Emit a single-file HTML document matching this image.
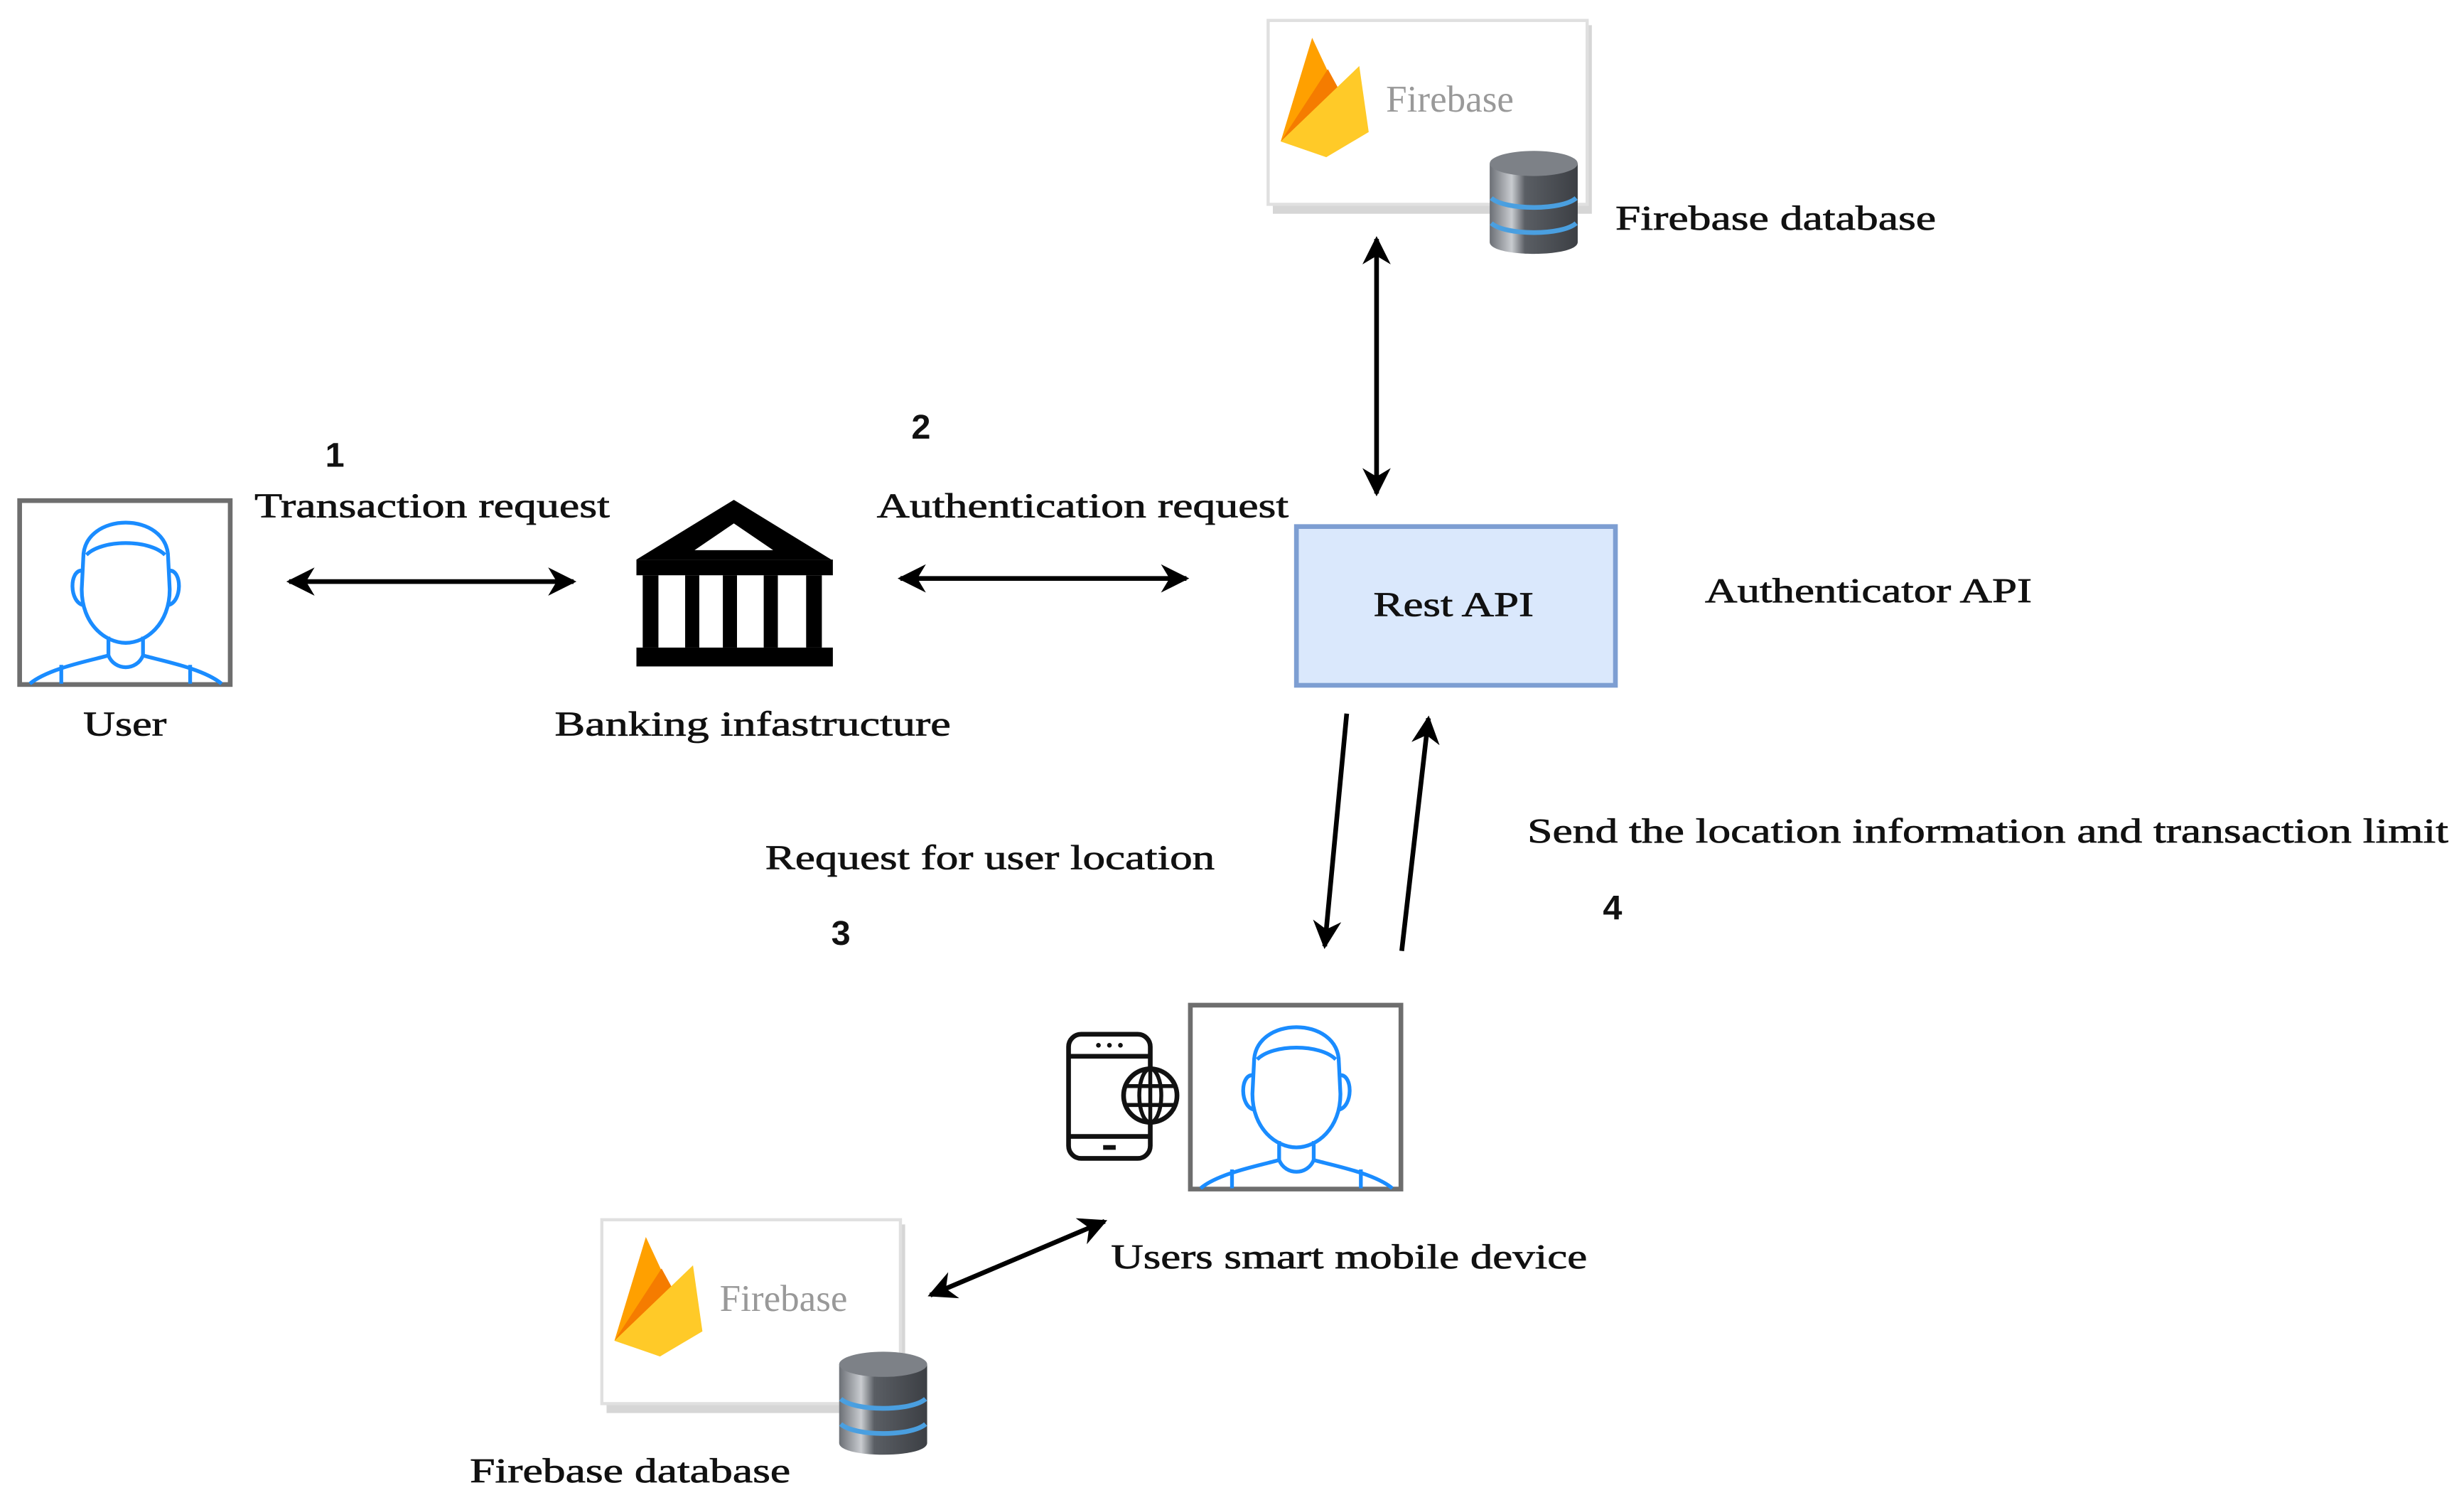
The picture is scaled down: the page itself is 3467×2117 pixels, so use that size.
<!DOCTYPE html>
<html><head><meta charset="utf-8"><style>
html,body{margin:0;padding:0;background:#fff;}
svg{display:block;}
text{font-family:"Liberation Serif",serif;fill:#111;}
.n{font-family:"Liberation Sans",sans-serif;font-weight:bold;font-size:22px;}
.t{font-size:22px;stroke:#111;stroke-width:0.35px;}
</style></head><body>
<svg width="3467" height="2117" viewBox="0 0 1568 957.5" preserveAspectRatio="none" xmlns="http://www.w3.org/2000/svg">
<defs>
<marker id="ah" viewBox="0 0 10 10" refX="9" refY="5" markerWidth="6" markerHeight="6" orient="auto-start-reverse" markerUnits="strokeWidth">
<path d="M0,0 L10,5 L0,10 L3,5 Z" fill="#000"/></marker>
<linearGradient id="cyl" x1="0" x2="1" y1="0" y2="0">
<stop offset="0" stop-color="#6b6f75"/><stop offset="0.25" stop-color="#c9ccd0"/><stop offset="0.4" stop-color="#5a5e64"/><stop offset="1" stop-color="#3c3f44"/></linearGradient>
<g id="person">
<rect x="1.5" y="1.5" width="134" height="117" fill="#fff" stroke="#6e6e6e" stroke-width="3"/>
<g fill="none" stroke="#1a8cff" stroke-width="2.4">
<path d="M42,38 C42,8 96,8 96,38 L97,58 C97,80 82,92 69,92 C56,92 41,80 41,58 Z"/>
<path d="M44,36 C54,26 84,26 94,36"/>
<path d="M41,46 C33,46 33,66 42,68 M97,46 C105,46 105,66 96,68"/>
<path d="M58,88 L58,100 C48,103 20,108 8,118 M80,88 L80,100 C90,103 118,108 130,118"/>
<path d="M58,100 C62,110 76,110 80,100"/>
<path d="M28,106 L28,118 M110,106 L110,118"/>
</g></g>
<g id="flame">
<polygon points="0,66 20,0 34,30" fill="#ffa000"/>
<polygon points="0,66 30,20 42,42" fill="#f57c00"/>
<polygon points="0,66 50,18 56,60 29,76" fill="#ffca28"/>
</g>
<g id="db">
<path d="M0,8 L0,58 C0,68 56,68 56,58 L56,8 Z" fill="url(#cyl)"/>
<ellipse cx="28" cy="8" rx="28" ry="8" fill="#7d8187"/>
<path d="M1,30 C10,38 46,38 55,30" fill="none" stroke="#4a9fe0" stroke-width="3"/>
<path d="M1,46 C10,54 46,54 55,46" fill="none" stroke="#4a9fe0" stroke-width="3"/>
</g>
</defs>

<!-- top firebase -->
<rect x="810" y="16" width="203" height="120" fill="#d6d6d6"/>
<rect x="807" y="13" width="203" height="117" fill="#fff" stroke="#e0e0e0" stroke-width="2"/>
<use href="#flame" x="815" y="24"/>
<text x="882" y="71" font-size="24" style="fill:#999">Firebase</text>
<use href="#db" x="948" y="96"/>
<text class="t" x="1028" y="146" textLength="204" lengthAdjust="spacingAndGlyphs">Firebase database</text>

<!-- user -->
<use href="#person" x="11" y="317"/>
<text class="t" x="53" y="468" textLength="53" lengthAdjust="spacingAndGlyphs">User</text>

<text class="n" x="207" y="297">1</text>
<text class="t" x="162" y="329" textLength="226" lengthAdjust="spacingAndGlyphs">Transaction request</text>
<line x1="184" y1="370" x2="365" y2="370" stroke="#000" stroke-width="3" marker-start="url(#ah)" marker-end="url(#ah)"/>

<!-- bank -->
<g fill="#000">
<polygon points="467,318 529,356 405,356"/>
<polygon points="467,333 442,350 492,350" fill="#fff"/>
<rect x="405" y="356" width="125" height="10"/>
<rect x="409" y="366" width="10" height="46"/>
<rect x="436" y="366" width="9" height="46"/>
<rect x="460" y="366" width="9" height="46"/>
<rect x="486" y="366" width="9" height="46"/>
<rect x="513" y="366" width="10" height="46"/>
<rect x="405" y="412" width="125" height="12"/>
</g>
<text class="t" x="353" y="468" textLength="252" lengthAdjust="spacingAndGlyphs">Banking infastructure</text>

<text class="n" x="580" y="279">2</text>
<text class="t" x="558" y="329" textLength="262" lengthAdjust="spacingAndGlyphs">Authentication request</text>
<line x1="573" y1="368" x2="755" y2="368" stroke="#000" stroke-width="3" marker-start="url(#ah)" marker-end="url(#ah)"/>

<!-- Rest API -->
<rect x="825" y="335" width="203" height="101" fill="#dae8fc" stroke="#7d9ed2" stroke-width="3"/>
<text class="t" x="874" y="392" textLength="102" lengthAdjust="spacingAndGlyphs">Rest API</text>
<text class="t" x="1085" y="383" textLength="208" lengthAdjust="spacingAndGlyphs">Authenticator API</text>

<line x1="876" y1="152" x2="876" y2="314" stroke="#000" stroke-width="3" marker-start="url(#ah)" marker-end="url(#ah)"/>

<line x1="857" y1="454" x2="843" y2="602" stroke="#000" stroke-width="3" marker-end="url(#ah)"/>
<line x1="892" y1="605" x2="909" y2="457" stroke="#000" stroke-width="3" marker-end="url(#ah)"/>

<text class="t" x="487" y="553" textLength="286" lengthAdjust="spacingAndGlyphs">Request for user location</text>
<text class="n" x="529" y="601">3</text>
<text class="t" x="972" y="536" textLength="586" lengthAdjust="spacingAndGlyphs">Send the location information and transaction limit</text>
<text class="n" x="1020" y="585">4</text>

<!-- mobile user -->
<use href="#person" x="756" y="638"/>
<g fill="none" stroke="#111" stroke-width="3">
<rect x="680" y="658" width="52" height="79" rx="8"/>
<line x1="680" y1="672" x2="732" y2="672"/>
<line x1="680" y1="723" x2="732" y2="723"/>
<line x1="702" y1="730" x2="710" y2="730"/>
</g>
<g fill="#111"><circle cx="699" cy="665" r="1.5"/><circle cx="706" cy="665" r="1.5"/><circle cx="713" cy="665" r="1.5"/></g>
<g fill="#fff" stroke="#111" stroke-width="3">
<circle cx="732" cy="697" r="17"/></g>
<g fill="none" stroke="#111" stroke-width="2.5">
<ellipse cx="732" cy="697" rx="7" ry="17"/>
<line x1="732" y1="680" x2="732" y2="714"/>
<line x1="716" y1="691" x2="748" y2="691"/>
<line x1="716" y1="703" x2="748" y2="703"/>
</g>
<text class="t" x="707" y="807" textLength="303" lengthAdjust="spacingAndGlyphs">Users smart mobile device</text>

<!-- bottom firebase -->
<rect x="386" y="779" width="190" height="120" fill="#d6d6d6"/>
<rect x="383" y="776" width="190" height="117" fill="#fff" stroke="#e0e0e0" stroke-width="2"/>
<use href="#flame" x="391" y="787"/>
<text x="458" y="834" font-size="24" style="fill:#999">Firebase</text>
<use href="#db" x="534" y="860"/>
<text class="t" x="299" y="943" textLength="204" lengthAdjust="spacingAndGlyphs">Firebase database</text>
<line x1="592" y1="824" x2="703" y2="777" stroke="#000" stroke-width="3" marker-start="url(#ah)" marker-end="url(#ah)"/>
</svg>
</body></html>
